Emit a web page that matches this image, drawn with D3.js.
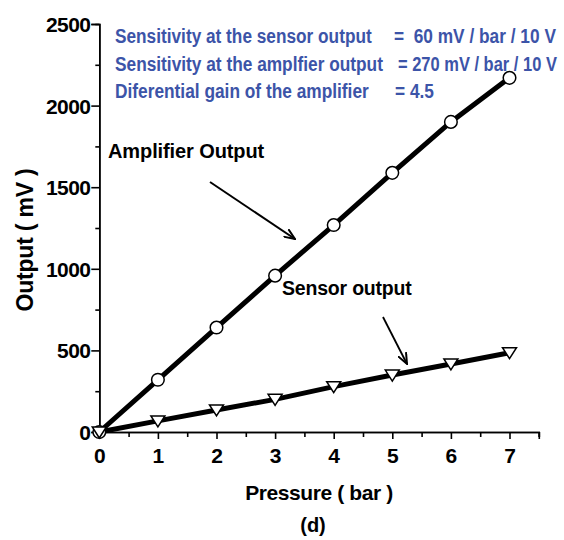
<!DOCTYPE html>
<html><head><meta charset="utf-8">
<script src="https://cdn.jsdelivr.net/npm/d3@7"></script>
<style>body{margin:0;background:#fff}svg{display:block}text{font-family:"Liberation Sans",Arial,sans-serif;font-weight:bold}</style>
</head><body><svg id="c" width="564" height="540"></svg>
<script>
const pressure = [0,1,2,3,4,5,6,7];
const amplifierOutput = [0,320,640,958,1268,1588,1900,2170];
const sensorOutput = [0,68,135,200,278,349,417,486];
const xTicks = [0,1,2,3,4,5,6,7];
const yTicks = [0,500,1000,1500,2000,2500];
const noteLeft = ["Sensitivity at the sensor output","Sensitivity at the amplfier output","Diferential gain of the amplifier"];
const noteRight = ["=  60 mV / bar / 10 V","= 270 mV / bar / 10 V","= 4.5"];

const svg = d3.select("#c");
const x = d3.scaleLinear().domain([0,7.5]).range([99.3,538.8]);
const y = d3.scaleLinear().domain([0,2500]).range([432,24]);

// axes
const gx = svg.append("g").attr("transform","translate(0,432)");
gx.call(d3.axisBottom(x).tickValues(d3.range(0.5,7.6,1)).tickSize(5).tickFormat(""));
gx.call(g=>g.append("g").call(d3.axisBottom(x).tickValues(xTicks).tickSize(7).tickFormat(d3.format("d"))));
gx.selectAll("path.domain").attr("stroke","#000").attr("stroke-width",1.6);
gx.selectAll(".tick line").attr("stroke","#000").attr("stroke-width",1.6);
gx.selectAll(".tick text").attr("fill","#000").attr("font-size",21).attr("y",null).attr("dy",null)
  .attr("transform","translate(0,31)").style("font-family","Liberation Sans, Arial").style("font-weight","bold");

const gy = svg.append("g").attr("transform","translate(99.3,0)");
gy.call(d3.axisLeft(y).tickValues(d3.range(250,2500,500)).tickSize(4).tickFormat(""));
gy.call(g=>g.append("g").call(d3.axisLeft(y).tickValues(yTicks).tickSize(8).tickFormat(d3.format("d"))));
gy.selectAll("path.domain").attr("stroke","#000").attr("stroke-width",1.6);
gy.selectAll(".tick line").attr("stroke","#000").attr("stroke-width",1.6);
gy.selectAll(".tick text").attr("fill","#000").attr("font-size",21).attr("x",-9).attr("dy","0.36em")
  .attr("letter-spacing",-0.6).style("font-family","Liberation Sans, Arial").style("font-weight","bold");

// lines
const line = d3.line().x((d,i)=>x(pressure[i])).y(d=>y(d));
svg.append("path").datum(amplifierOutput).attr("d",line).attr("fill","none").attr("stroke","#000").attr("stroke-width",5);
svg.append("path").datum(sensorOutput).attr("d",line).attr("fill","none").attr("stroke","#000").attr("stroke-width",5);

// markers
svg.append("g").selectAll("circle").data(amplifierOutput).join("circle")
  .attr("cx",(d,i)=>x(pressure[i])).attr("cy",d=>y(d)).attr("r",6.3)
  .attr("fill","#fff").attr("stroke","#000").attr("stroke-width",1.5);
svg.append("g").selectAll("path").data(sensorOutput).join("path")
  .attr("transform",(d,i)=>`translate(${x(pressure[i])},${y(d)})`)
  .attr("d","M-7,-5L7,-5L0,6Z")
  .attr("fill","#fff").attr("stroke","#000").attr("stroke-width",1.5);

// axis titles
svg.append("text").attr("transform","translate(33,240) rotate(-90)").attr("text-anchor","middle")
  .attr("font-size",23).attr("letter-spacing",-0.2).text("Output ( mV )");
svg.append("text").attr("x",319).attr("y",500).attr("text-anchor","middle")
  .attr("font-size",21).attr("letter-spacing",-0.4).text("Pressure ( bar )");
svg.append("text").attr("x",313).attr("y",532).attr("text-anchor","middle")
  .attr("font-size",20).text("(d)");

// notes (horizontally condensed to the widths seen in the reference)
const blue = "#3c54a8";
const noteY = [43,70.5,98];
const leftLen = [257,268,254];
const rx = [394,398,395];
const rightLen = [162,159,39];
function fitted(t, x0, y0, w){
  const el = svg.append("text").attr("fill",blue).attr("font-size",20).style("white-space","pre").text(t);
  const L = el.node().getComputedTextLength();
  el.attr("transform",`translate(${x0},${y0}) scale(${w/L},1)`);
}
noteLeft.forEach((t,i)=>fitted(t,115,noteY[i],leftLen[i]));
noteRight.forEach((t,i)=>fitted(t,rx[i],noteY[i],rightLen[i]));

// annotations
svg.append("text").attr("x",108).attr("y",158).attr("font-size",20).attr("letter-spacing",-0.1).text("Amplifier Output");
svg.append("text").attr("x",282).attr("y",295).attr("font-size",19.5).attr("letter-spacing",-0.2).text("Sensor output");

svg.append("defs").append("marker").attr("id","ah").attr("viewBox","0 0 12 10").attr("refX",11).attr("refY",5)
  .attr("markerWidth",12).attr("markerHeight",10).attr("markerUnits","userSpaceOnUse").attr("orient","auto")
  .append("path").attr("d","M0,0.5L11,5L0,9.5").attr("fill","none").attr("stroke","#000").attr("stroke-width",2);
svg.append("line").attr("x1",210).attr("y1",182).attr("x2",295).attr("y2",239).attr("stroke","#000").attr("stroke-width",2).attr("marker-end","url(#ah)");
svg.append("line").attr("x1",383).attr("y1",317).attr("x2",407).attr("y2",364).attr("stroke","#000").attr("stroke-width",1.8).attr("marker-end","url(#ah)");
</script></body></html>
